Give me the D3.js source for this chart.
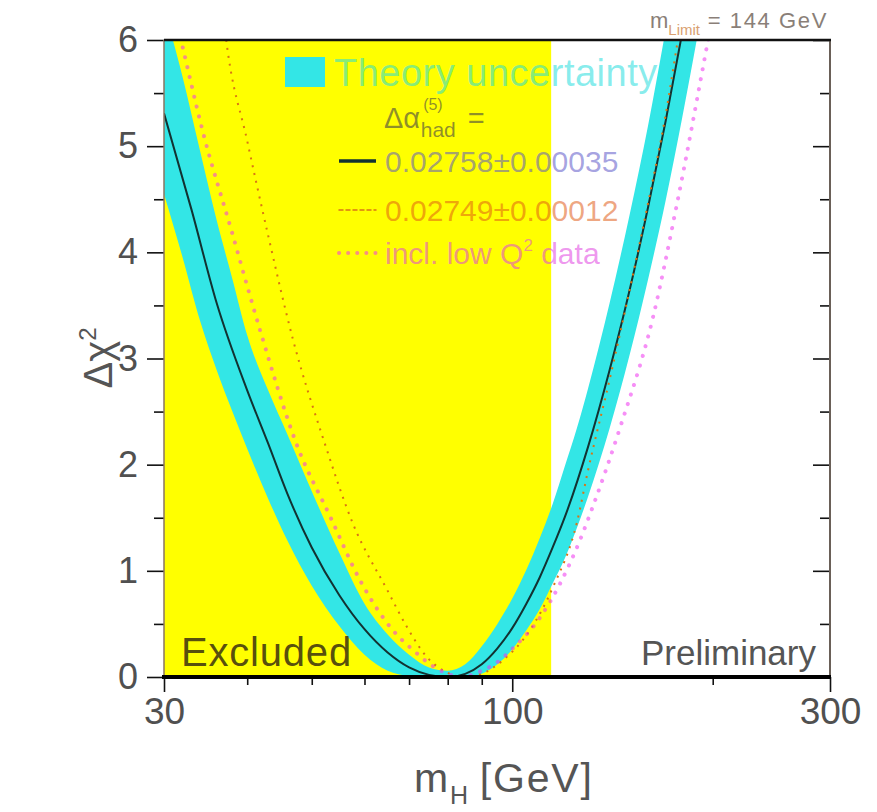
<!DOCTYPE html>
<html>
<head>
<meta charset="utf-8">
<script src="https://cdn.jsdelivr.net/npm/d3@7"></script>
<style>
  body { margin: 0; background: #fff; }
  svg { display: block; font-family: "Liberation Sans", Arial, sans-serif; }
</style>
</head>
<body>
<div id="chart"></div>
<script>
// m_H grid (GeV) shared by the theory band edges
const massGrid = [30, 32, 34, 36, 38, 40, 43, 46, 50, 55, 60, 65, 70, 75, 80, 85, 90, 95,
  100, 105, 110, 115, 120, 125, 130, 140, 150, 160, 170, 180, 190];
const bandLow = [4.55, 3.95, 3.35, 2.89, 2.5, 2.15, 1.68, 1.28, 0.86, 0.48, 0.21, 0.06, 0.01, 0, 0, 0,
  0.03, 0.12, 0.26, 0.44, 0.64, 0.88, 1.12, 1.4, 1.7, 2.34, 3.03, 3.75, 4.49, 5.27, 6.06];
const bandHigh = [6.3, 5.65, 4.95, 4.3, 3.75, 3.22, 2.7, 2.28, 1.75, 1.17, 0.69, 0.4, 0.21, 0.09, 0.06, 0.12,
  0.29, 0.5, 0.74, 1.01, 1.31, 1.63, 1.99, 2.34, 2.72, 3.52, 4.35, 5.2, 6.1, 7.0, 7.8];

// central fit, dalpha_had = 0.02758 +- 0.00035
const centralMass = [30, 33, 36, 40, 43, 46, 50, 55, 60, 65, 70, 75, 80, 85, 90, 95, 100, 105,
  110, 115, 120, 130, 140, 150, 160, 170, 180, 190];
const centralChi2 = [5.31, 4.4, 3.52, 2.7, 2.2, 1.72, 1.22, 0.77, 0.45, 0.23, 0.09, 0.02, 0, 0.03, 0.12,
  0.27, 0.46, 0.69, 0.94, 1.22, 1.51, 2.17, 2.89, 3.64, 4.43, 5.24, 6.07, 6.9];

// dalpha_had = 0.02749 +- 0.00012
const altMass = [36.3, 37.2, 40, 43, 46.9, 52.3, 57.6, 64.9, 69.5, 74.4, 80, 85, 90, 96.9, 106.3,
  115.2, 125, 130, 140, 150, 160, 170, 177.3, 185];
const altChi2 = [6.6, 6.0, 5.05, 4.16, 3.17, 2.2, 1.45, 0.82, 0.47, 0.19, 0.04, 0, 0.03, 0.16, 0.44,
  0.85, 1.45, 1.95, 2.8, 3.64, 4.47, 5.3, 6.0, 6.7];

// incl. low Q^2 data
const lowQMass = [31, 31.9, 34.3, 37.9, 41.8, 47.6, 53.3, 59.1, 66.2, 71.1, 76.1, 80, 84, 89.3, 95,
  100.2, 110.1, 118, 126.4, 132.4, 145.2, 162.7, 176.8, 196, 205];
const lowQChi2 = [6.3, 5.97, 5.14, 4.2, 3.27, 2.17, 1.51, 0.91, 0.44, 0.25, 0.1, 0.03, 0, 0.05, 0.14,
  0.27, 0.56, 0.88, 1.29, 1.62, 2.35, 3.39, 4.46, 5.94, 6.6];

const excludedRange = [30, 114.4];
const xTicks = [30, 100, 300];
const xMinor = [40, 50, 60, 70, 80, 90, 200];
const yTicks = [0, 1, 2, 3, 4, 5, 6];
const yMinor = [0.5, 1.5, 2.5, 3.5, 4.5, 5.5];

const [w, h] = [877, 812];
const pLeft = 164, pRight = 830, pTop = 40, pBottom = 677;

const x = d3.scaleLog().domain([30, 300]).range([pLeft, pRight]);
const y = d3.scaleLinear().domain([0, 6]).range([pBottom, pTop]);

const svg = d3.select("#chart").append("svg")
  .attr("width", w)
  .attr("height", h);

svg.append("defs").append("clipPath")
  .attr("id", "plot-clip")
  .append("rect")
  .attr("x", pLeft).attr("y", pTop)
  .attr("width", pRight - pLeft).attr("height", pBottom - pTop);

const plot = svg.append("g").attr("clip-path", "url(#plot-clip)");

// LEP direct search exclusion
plot.append("rect")
  .attr("x", x(excludedRange[0]))
  .attr("y", pTop)
  .attr("width", x(excludedRange[1]) - x(excludedRange[0]))
  .attr("height", pBottom - pTop)
  .attr("fill", "#ffff00");

// theory uncertainty band
const band = d3.area()
  .x((d, i) => x(massGrid[i]))
  .y0((d, i) => y(bandLow[i]))
  .y1((d, i) => y(bandHigh[i]))
  .curve(d3.curveMonotoneX);

plot.append("path")
  .attr("d", band(massGrid))
  .attr("fill", "#33e6e6");

const curve = (ms, vs) => d3.line()
  .x((d, i) => x(ms[i]))
  .y((d, i) => y(vs[i]))
  .curve(d3.curveMonotoneX)(ms);

plot.append("path")
  .attr("d", curve(centralMass, centralChi2))
  .attr("fill", "none")
  .attr("stroke", "#123232")
  .attr("stroke-width", 2);

plot.append("path")
  .attr("d", curve(altMass, altChi2))
  .attr("fill", "none")
  .attr("stroke", "#d97514")
  .attr("stroke-width", 2)
  .attr("stroke-dasharray", "2,6");

plot.append("path")
  .attr("d", curve(lowQMass, lowQChi2))
  .attr("fill", "none")
  .attr("stroke", "#ee33ee")
  .attr("stroke-opacity", 0.55)
  .attr("stroke-width", 4)
  .attr("stroke-linecap", "round")
  .attr("stroke-dasharray", "0.1,10");

// axes
const tickColor = "#505050";
function styleAxis(g, fontSize) {
  g.select(".domain").remove();
  g.selectAll("line").attr("stroke", "#111").attr("stroke-width", 1.6);
  g.selectAll("text")
    .attr("fill", tickColor)
    .style("font-size", fontSize + "px")
    .style("font-family", "'Liberation Sans', Arial, sans-serif");
}

svg.append("g")
  .attr("transform", `translate(${pLeft},0)`)
  .call(d3.axisLeft(y).tickValues(yTicks).tickSize(17).tickPadding(9).tickFormat(d3.format("d")))
  .call(g => styleAxis(g, 36));

svg.append("g")
  .attr("transform", `translate(${pLeft},0)`)
  .call(d3.axisLeft(y).tickValues(yMinor).tickSize(10).tickFormat(""))
  .call(g => styleAxis(g, 36));

svg.append("g")
  .attr("transform", `translate(${pRight},0)`)
  .call(d3.axisLeft(y).tickValues(yTicks).tickSize(17).tickFormat(""))
  .call(g => styleAxis(g, 36));

svg.append("g")
  .attr("transform", `translate(${pRight},0)`)
  .call(d3.axisLeft(y).tickValues(yMinor).tickSize(10).tickFormat(""))
  .call(g => styleAxis(g, 36));

svg.append("g")
  .attr("transform", `translate(0,${pBottom})`)
  .call(d3.axisBottom(x).tickValues(xTicks).tickSize(15).tickPadding(6).tickFormat(d3.format("d")))
  .call(g => styleAxis(g, 37));

svg.append("g")
  .attr("transform", `translate(0,${pBottom})`)
  .call(d3.axisBottom(x).tickValues(xMinor).tickSize(8).tickFormat(""))
  .call(g => styleAxis(g, 37));

// frame
svg.append("line")
  .attr("x1", pLeft).attr("x2", pLeft).attr("y1", pTop).attr("y2", pBottom)
  .attr("stroke", "#8a7560").attr("stroke-width", 1.5);
svg.append("line")
  .attr("x1", pRight).attr("x2", pRight).attr("y1", pTop).attr("y2", pBottom)
  .attr("stroke", "#6a6058").attr("stroke-width", 2);
svg.append("line")
  .attr("x1", pLeft).attr("x2", pRight + 1).attr("y1", pTop).attr("y2", pTop)
  .attr("stroke", "#111").attr("stroke-width", 2.5);
svg.append("line")
  .attr("x1", pLeft - 2).attr("x2", pRight + 1).attr("y1", pBottom).attr("y2", pBottom)
  .attr("stroke", "#000").attr("stroke-width", 4);

// legend
svg.append("rect")
  .attr("x", 285).attr("y", 57).attr("width", 40).attr("height", 30)
  .attr("fill", "#33e6e6");
svg.append("text")
  .attr("x", 334).attr("y", 86)
  .attr("fill", "#22dddd").attr("fill-opacity", 0.55)
  .style("font-size", "38px")
  .style("letter-spacing", "0.5px")
  .text("Theory uncertainty");

const dAlpha = svg.append("text")
  .attr("x", 384).attr("y", 128)
  .attr("fill", "#444").attr("fill-opacity", 0.6)
  .style("font-size", "29px");
dAlpha.append("tspan").text("Δα");
dAlpha.append("tspan").attr("dx", 3).attr("dy", -18).style("font-size", "16px").text("(5)");
dAlpha.append("tspan").attr("dx", -22).attr("dy", 27).style("font-size", "21px").text("had");
dAlpha.append("tspan").attr("dx", 12).attr("dy", -9).text("=");

const legendRows = [
  { y: 161, text: "0.02758±0.00035", color: "#5a55c8", stroke: "#123232", width: 3.5, dash: null, op: 1 },
  { y: 210, text: "0.02749±0.00012", color: "#e05a14", stroke: "#d97514", width: 1.5, dash: "4,3", op: 1 },
  { y: 253, text: "incl. low Q", color: "#e040e0", stroke: "#ee33ee", width: 4, dash: "0.1,9", op: 0.55 }
];
legendRows.forEach(r => {
  svg.append("line")
    .attr("x1", 339).attr("x2", 376).attr("y1", r.y).attr("y2", r.y)
    .attr("stroke", r.stroke).attr("stroke-width", r.width)
    .attr("stroke-opacity", r.op)
    .attr("stroke-linecap", r.dash ? "round" : "butt")
    .attr("stroke-dasharray", r.dash);
  const t = svg.append("text")
    .attr("x", 385).attr("y", r.y + 11)
    .attr("fill", r.color).attr("fill-opacity", 0.55)
    .style("font-size", "30px")
    .text(r.text);
  if (r.text === "incl. low Q") {
    t.append("tspan").attr("dy", -13).style("font-size", "17px").text("2");
    t.append("tspan").attr("dy", 13).text(" data");
  }
});

svg.append("text")
  .attr("x", 181).attr("y", 666)
  .attr("fill", "#3a3010").attr("fill-opacity", 0.85)
  .style("font-size", "40px")
  .style("letter-spacing", "0.8px")
  .text("Excluded");

svg.append("text")
  .attr("x", 816).attr("y", 665)
  .attr("text-anchor", "end")
  .attr("fill", "#555")
  .style("font-size", "35px")
  .text("Preliminary");

const limit = svg.append("text")
  .attr("x", 650).attr("y", 28)
  .attr("fill", "#8a7f78")
  .style("font-size", "22px");
limit.append("tspan").text("m");
limit.append("tspan").attr("dy", 7).style("font-size", "15px").attr("fill", "#d9a070").text("Limit");
limit.append("tspan").attr("dy", -7).style("letter-spacing", "1.6px").text(" = 144 GeV");

// axis titles
const yTitle = svg.append("text")
  .attr("transform", "translate(112,358) rotate(-90)")
  .attr("text-anchor", "middle")
  .attr("fill", "#555")
  .style("font-size", "40px");
yTitle.append("tspan").text("Δχ");
yTitle.append("tspan").attr("dy", -16).style("font-size", "24px").text("2");

const xTitle = svg.append("text")
  .attr("x", 414).attr("y", 792)
  .attr("fill", "#555")
  .style("font-size", "41px")
  .style("letter-spacing", "1.8px");
xTitle.append("tspan").text("m");
xTitle.append("tspan").attr("dy", 12).style("font-size", "25px").text("H");
xTitle.append("tspan").attr("dy", -12).attr("dx", 10).text("[GeV]");
</script>
</body>
</html>
